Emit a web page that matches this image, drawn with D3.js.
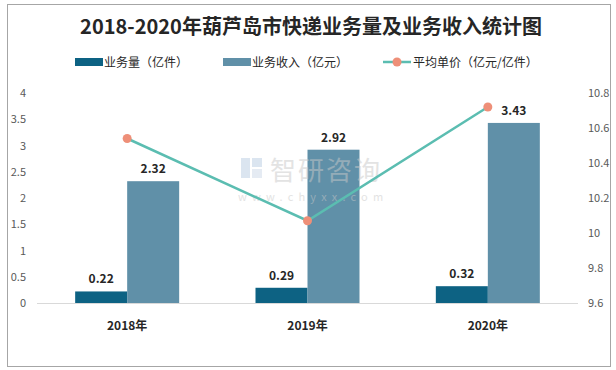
<!DOCTYPE html>
<html lang="zh">
<head>
<meta charset="UTF-8">
<title>2018-2020年葫芦岛市快递业务量及业务收入统计图</title>
<style>
  body { margin: 0; background: #fff; }
  text { font-family: "Noto Sans CJK SC", "Noto Sans", sans-serif; }
</style>
</head>
<body>
<script src="https://cdn.jsdelivr.net/npm/d3@7/dist/d3.min.js"></script>
<script>
// data
const years = ["2018年", "2019年", "2020年"];
const volume = [0.22, 0.29, 0.32];     // 业务量（亿件）
const revenue = [2.32, 2.92, 3.43];    // 业务收入（亿元）
const unitPrice = [10.54, 10.07, 10.72]; // 平均单价（亿元/亿件）
const leftTicks = [0, 0.5, 1, 1.5, 2, 2.5, 3, 3.5, 4];
const rightTicks = [9.6, 9.8, 10, 10.2, 10.4, 10.6, 10.8];

const W = 616, H = 370;
const darkColor = "#0d6283", lightColor = "#6090a8";
const lineColor = "#5bbdb1", dotColor = "#ee8f78";

const svg = d3.select("body").append("svg")
  .attr("width", W).attr("height", H);

// outer frame
svg.append("rect")
  .attr("x", 7.5).attr("y", 4.5).attr("width", 603).attr("height", 362)
  .attr("fill", "#fff").attr("stroke", "#a6a6a6");

// title
svg.append("text")
  .attr("x", 311).attr("y", 34)
  .attr("text-anchor", "middle")
  .attr("font-size", 20).attr("font-weight", "bold")
  .attr("fill", "#262626")
  .text("2018-2020年葫芦岛市快递业务量及业务收入统计图");

// scales
const x = d3.scaleBand().domain(years).range([37, 578]);
const yL = d3.scaleLinear().domain([0, 4]).range([303, 93]);
const yR = d3.scaleLinear().domain([9.6, 10.8]).range([303, 93]);
const barW = 52;

// baseline
svg.append("line")
  .attr("x1", 37).attr("x2", 578)
  .attr("y1", yL(0) + 0.5).attr("y2", yL(0) + 0.5)
  .attr("stroke", "#d9d9d9");

// left ticks
svg.append("g").selectAll("text").data(leftTicks).enter().append("text")
  .attr("x", 26).attr("y", d => yL(d) + 4)
  .attr("text-anchor", "end").attr("font-size", 11).attr("fill", "#595959")
  .text(d => d);

// right ticks
svg.append("g").selectAll("text").data(rightTicks).enter().append("text")
  .attr("x", 588).attr("y", d => yR(d) + 4)
  .attr("font-size", 11).attr("fill", "#595959")
  .text(d => d);

// bars
svg.append("g").selectAll("rect").data(volume).enter().append("rect")
  .attr("x", (d, i) => x(years[i]) + x.bandwidth() / 2 - barW)
  .attr("y", d => yL(d)).attr("width", barW)
  .attr("height", d => yL(0) - yL(d))
  .attr("fill", darkColor);

svg.append("g").selectAll("rect").data(revenue).enter().append("rect")
  .attr("x", (d, i) => x(years[i]) + x.bandwidth() / 2)
  .attr("y", d => yL(d)).attr("width", barW)
  .attr("height", d => yL(0) - yL(d))
  .attr("fill", lightColor);

// watermark (over the bars, under the line)
const wm = svg.append("g").attr("opacity", 0.5);
wm.append("rect").attr("x", 241).attr("y", 158).attr("width", 9).attr("height", 20).attr("fill", "#b9cde3");
wm.append("rect").attr("x", 252).attr("y", 158).attr("width", 10).attr("height", 9).attr("fill", "#b9cde3");
wm.append("rect").attr("x", 252).attr("y", 169).attr("width", 10).attr("height", 9).attr("fill", "#cdd9e8");
wm.append("text").attr("x", 270).attr("y", 180)
  .attr("font-size", 26).attr("fill", "#c8c8c8").attr("letter-spacing", 2)
  .text("智研咨询");
wm.append("text").attr("x", 238).attr("y", 201)
  .attr("font-size", 11).attr("fill", "#c8c8c8").attr("letter-spacing", 5.2)
  .text("www.chyxx.com");

// bar labels
svg.append("g").selectAll("text").data(volume).enter().append("text")
  .attr("x", (d, i) => x(years[i]) + x.bandwidth() / 2 - barW / 2)
  .attr("y", d => yL(d) - 8)
  .attr("text-anchor", "middle").attr("font-size", 12).attr("font-weight", "bold")
  .attr("fill", "#262626")
  .text(d => d.toFixed(2));

svg.append("g").selectAll("text").data(revenue).enter().append("text")
  .attr("x", (d, i) => x(years[i]) + x.bandwidth() / 2 + barW / 2)
  .attr("y", d => yL(d) - 8)
  .attr("text-anchor", "middle").attr("font-size", 12).attr("font-weight", "bold")
  .attr("fill", "#262626")
  .text(d => d.toFixed(2));

// price line
const line = d3.line()
  .x((d, i) => x(years[i]) + x.bandwidth() / 2)
  .y(d => yR(d));

svg.append("path").datum(unitPrice)
  .attr("d", line).attr("fill", "none")
  .attr("stroke", lineColor).attr("stroke-width", 2.5);

svg.append("g").selectAll("circle").data(unitPrice).enter().append("circle")
  .attr("cx", (d, i) => x(years[i]) + x.bandwidth() / 2)
  .attr("cy", d => yR(d)).attr("r", 4.5)
  .attr("fill", dotColor);

// category labels
svg.append("g").selectAll("text").data(years).enter().append("text")
  .attr("x", d => x(d) + x.bandwidth() / 2)
  .attr("y", 330)
  .attr("text-anchor", "middle").attr("font-size", 12).attr("font-weight", "bold")
  .attr("fill", "#262626")
  .text(d => d);

// legend
const lg = svg.append("g").attr("font-size", 12).attr("fill", "#262626");
lg.append("rect").attr("x", 75).attr("y", 58).attr("width", 28).attr("height", 8).attr("fill", darkColor);
lg.append("text").attr("x", 104).attr("y", 67).attr("fill", "#262626").text("业务量（亿件）");
lg.append("rect").attr("x", 223).attr("y", 58).attr("width", 28).attr("height", 8).attr("fill", lightColor);
lg.append("text").attr("x", 252).attr("y", 67).attr("fill", "#262626").text("业务收入（亿元）");
lg.append("line").attr("x1", 383).attr("x2", 411).attr("y1", 62).attr("y2", 62)
  .attr("stroke", lineColor).attr("stroke-width", 2.5);
lg.append("circle").attr("cx", 397).attr("cy", 62).attr("r", 4.5).attr("fill", dotColor);
lg.append("text").attr("x", 413).attr("y", 67).attr("fill", "#262626").text("平均单价（亿元/亿件）");
</script>
</body>
</html>
